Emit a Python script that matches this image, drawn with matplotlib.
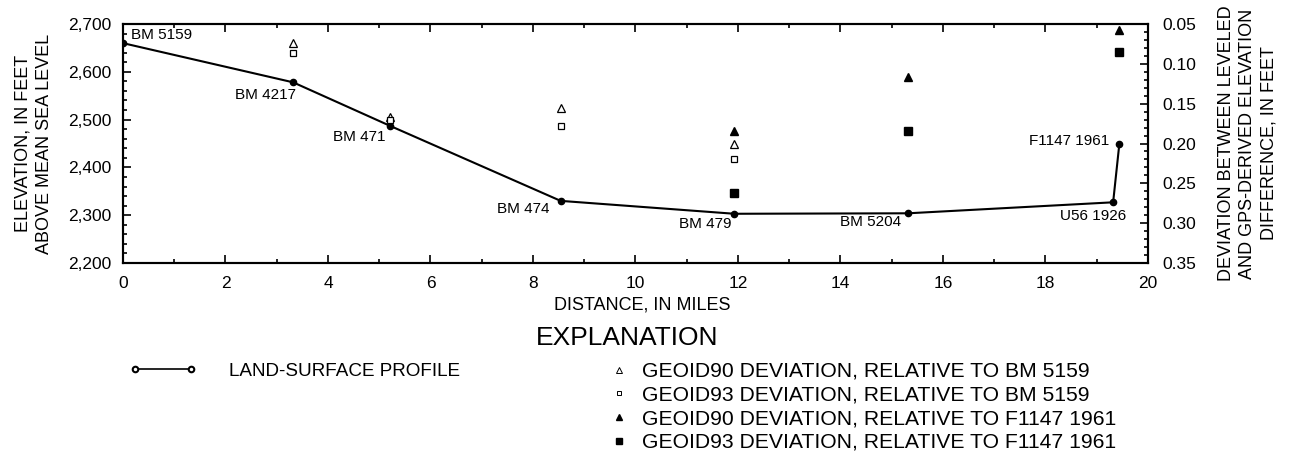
import matplotlib
matplotlib.use("Agg")
import matplotlib.pyplot as plt
from matplotlib.lines import Line2D
from matplotlib.ticker import MultipleLocator, FuncFormatter

# land-surface profile (distance in miles, elevation in feet)
profile_names = ["BM 5159", "BM 4217", "BM 471", "BM 474", "BM 479", "BM 5204", "U56 1926", "F1147 1961"]
profile_dist = [0.0, 3.32, 5.21, 8.54, 11.93, 15.32, 19.32, 19.44]
profile_elev = [2660, 2578, 2487, 2330, 2303, 2304, 2327, 2448]

# deviations (feet), right axis
g90_bm_dist = [3.32, 5.21, 8.54, 11.93]
g90_bm_dev = [0.074, 0.167, 0.156, 0.201]
g93_bm_dist = [3.32, 5.21, 8.54, 11.93]
g93_bm_dev = [0.086, 0.170, 0.178, 0.220]
g90_f_dist = [11.93, 15.32, 19.44]
g90_f_dev = [0.184, 0.116, 0.057]
g93_f_dist = [11.93, 15.32, 19.44]
g93_f_dev = [0.262, 0.184, 0.085]

legend_labels = ["GEOID90 DEVIATION, RELATIVE TO BM 5159", "GEOID93 DEVIATION, RELATIVE TO BM 5159",
                 "GEOID90 DEVIATION, RELATIVE TO F1147 1961", "GEOID93 DEVIATION, RELATIVE TO F1147 1961"]

# label offsets in pixels (dx, dy, ha)
label_off = [(8, 8, "left"), (3, -13, "right"), (-4, -11, "right"), (-11, -8, "right"),
             (-3, -10, "right"), (-7, -9, "right"), (13, -14, "right"), (-10, 3, "right")]

plt.rcParams["font.family"] = ["Liberation Sans", "DejaVu Sans"]

fig = plt.figure(figsize=(12.89, 4.54), dpi=100)
ax = fig.add_axes([0.0954, 0.4207, 0.7952, 0.5264])
ax2 = ax.twinx()

ax.plot(profile_dist, profile_elev, color="black", lw=1.5, marker="o", ms=4.5, zorder=3)
for name, x, y, (dx, dy, ha) in zip(profile_names, profile_dist, profile_elev, label_off):
    ax.annotate(name, (x, y), xytext=(dx * 0.72, dy * 0.72), textcoords="offset points",
                ha=ha, va="center", fontsize=11)

ms = 6
ax2.plot(g90_bm_dist, g90_bm_dev, ls="none", marker="^", ms=ms, mfc="white", mec="black", mew=0.9)
ax2.plot(g93_bm_dist, g93_bm_dev, ls="none", marker="s", ms=ms - 1, mfc="white", mec="black", mew=0.9)
ax2.plot(g90_f_dist, g90_f_dev, ls="none", marker="^", ms=ms, color="black")
ax2.plot(g93_f_dist, g93_f_dev, ls="none", marker="s", ms=ms - 0.5, color="black")

ax.set_xlim(0, 20)
ax.set_ylim(2200, 2700)
ax2.set_ylim(0.35, 0.05)
ax.xaxis.set_major_locator(MultipleLocator(2))
ax.xaxis.set_minor_locator(MultipleLocator(1))
ax.yaxis.set_major_locator(MultipleLocator(100))
ax.yaxis.set_minor_locator(MultipleLocator(20))
ax.yaxis.set_major_formatter(FuncFormatter(lambda v, p: f"{int(v):,}"))
ax2.yaxis.set_major_locator(MultipleLocator(0.05))
ax2.yaxis.set_minor_locator(MultipleLocator(0.01))
ax2.yaxis.set_major_formatter(FuncFormatter(lambda v, p: f"{v:.2f}"))

ax.tick_params(which="both", direction="in", top=True, labelsize=12.5, width=1.2)
ax.tick_params(which="major", length=6)
ax.tick_params(which="minor", length=3)
ax.tick_params(axis="x", pad=9)
ax.tick_params(axis="y", pad=8)
ax2.tick_params(which="both", direction="in", labelsize=12.5, width=1.2, pad=10.5)
ax2.tick_params(which="major", length=6)
ax2.tick_params(which="minor", length=3)
for a in (ax, ax2):
    for s in a.spines.values():
        s.set_linewidth(1.5)

ax.set_xlabel("DISTANCE, IN MILES", fontsize=13)
ax.xaxis.set_label_coords(0.507, -0.14)
ax.set_ylabel("ELEVATION, IN FEET\nABOVE MEAN SEA LEVEL", fontsize=13, linespacing=1.4)
ax.yaxis.set_label_coords(-0.068, 0.5)
ax2.set_ylabel("DEVIATION BETWEEN LEVELED\nAND GPS-DERIVED ELEVATION\nDIFFERENCE, IN FEET",
               fontsize=13, linespacing=1.35, rotation=90)
ax2.yaxis.set_label_coords(1.068, 0.5)

fig.text(0.4864, 0.2555, "EXPLANATION", fontsize=19, ha="center", va="center")

h1 = Line2D([], [], color="black", lw=1.2, marker="o", ms=4, mfc="white", mec="black", mew=1.5)
fig.legend([h1], ["LAND-SURFACE PROFILE"], loc="center left", bbox_to_anchor=(0.1000, 0.1828),
           frameon=False, numpoints=2, handlelength=3.6, handletextpad=1.7,
           borderpad=0, borderaxespad=0, prop={"size": 13.6})

hs = [Line2D([], [], ls="none", marker="^", ms=4.5, mfc="white", mec="black", mew=0.7),
      Line2D([], [], ls="none", marker="s", ms=3.5, mfc="white", mec="black", mew=0.7),
      Line2D([], [], ls="none", marker="^", ms=4.5, color="black"),
      Line2D([], [], ls="none", marker="s", ms=4, color="black")]
fig.legend(hs, legend_labels, loc="upper left", bbox_to_anchor=(0.4733, 0.2027), frameon=False,
           handlelength=0.8, handletextpad=0.7, labelspacing=0.22, borderpad=0, borderaxespad=0,
           prop={"size": 15.2})

fig.savefig("out.png", dpi=100)
